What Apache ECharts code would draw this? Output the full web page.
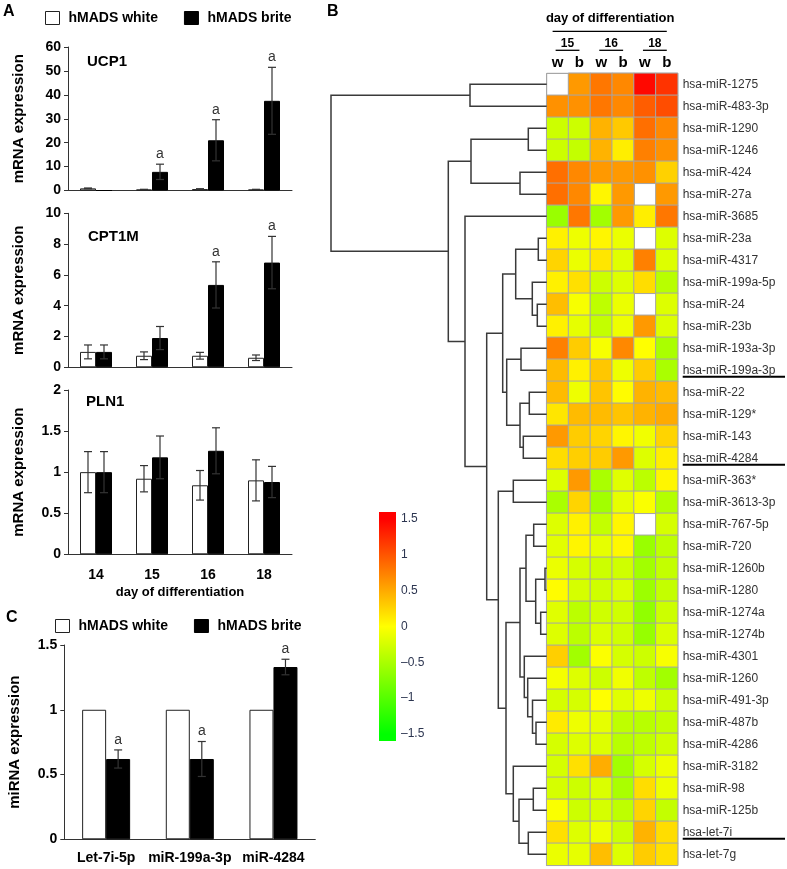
<!DOCTYPE html>
<html>
<head>
<meta charset="utf-8">
<script src="https://cdn.jsdelivr.net/npm/echarts@6.0.0/dist/echarts.min.js"></script>
<style>
html,body{margin:0;padding:0;background:#fff;}
#chart{width:787px;height:869px;}
</style>
</head>
<body>
<div id="chart"></div>
<script>
// ================= DATA =================
// Panel A
const days = ['14', '15', '16', '18'];
const ucp1White = [0.9, 0.4, 0.6, 0.4];
const ucp1WhiteErr = [0.15, 0.1, 0.15, 0.1];
const ucp1Brite = [0, 7.8, 21, 37.5];
const ucp1BriteErr = [0, 3.2, 8.6, 14];
const ucp1Sig = [0, 1, 1, 1];

const cpt1mWhite = [1.0, 0.75, 0.75, 0.62];
const cpt1mWhiteErr = [0.45, 0.25, 0.22, 0.18];
const cpt1mBrite = [1.0, 1.9, 5.35, 6.8];
const cpt1mBriteErr = [0.45, 0.75, 1.5, 1.7];
const cpt1mSig = [0, 0, 1, 1];

const pln1White = [1.0, 0.92, 0.84, 0.9];
const pln1WhiteErr = [0.25, 0.16, 0.18, 0.25];
const pln1Brite = [1.0, 1.18, 1.26, 0.88];
const pln1BriteErr = [0.25, 0.26, 0.28, 0.19];
const pln1Sig = [0, 0, 0, 0];

const ucp1Ticks = {max: 60, interval: 10};
const cpt1mTicks = {max: 10, interval: 2};
const pln1Ticks = {max: 2, interval: 0.5};

// Panel C
const mirs = ['Let-7i-5p', 'miR-199a-3p', 'miR-4284'];
const mirWhite = [1, 1, 1];
const mirWhiteErr = [0, 0, 0];
const mirBrite = [0.62, 0.62, 1.33];
const mirBriteErr = [0.07, 0.135, 0.06];
const mirSig = [1, 1, 1];
const mirTicks = {max: 1.5, interval: 0.5};

// Panel B heatmap
const hmCols = ['w15', 'b15', 'w16', 'b16', 'w18', 'b18'];
const hmDays = ['15', '16', '18'];
const mirnaRows = [
  'hsa-miR-1275', 'hsa-miR-483-3p', 'hsa-miR-1290', 'hsa-miR-1246', 'hsa-miR-424', 'hsa-miR-27a',
  'hsa-miR-3685', 'hsa-miR-23a', 'hsa-miR-4317', 'hsa-miR-199a-5p', 'hsa-miR-24', 'hsa-miR-23b',
  'hsa-miR-193a-3p', 'hsa-miR-199a-3p', 'hsa-miR-22', 'hsa-miR-129*', 'hsa-miR-143', 'hsa-miR-4284',
  'hsa-miR-363*', 'hsa-miR-3613-3p', 'hsa-miR-767-5p', 'hsa-miR-720', 'hsa-miR-1260b', 'hsa-miR-1280',
  'hsa-miR-1274a', 'hsa-miR-1274b', 'hsa-miR-4301', 'hsa-miR-1260', 'hsa-miR-491-3p', 'hsa-miR-487b',
  'hsa-miR-4286', 'hsa-miR-3182', 'hsa-miR-98', 'hsa-miR-125b', 'hsa-let-7i', 'hsa-let-7g'
];
const hmValues = [
  [null, 0.6, 0.8, 0.7, 1.45, 1.2],
  [0.65, 0.65, 0.8, 0.7, 0.95, 1.05],
  [-0.3, -0.3, 0.45, 0.32, 0.85, 0.7],
  [-0.3, -0.35, 0.45, 0.1, 0.75, 0.65],
  [0.85, 0.7, 0.6, 0.6, 0.65, 0.27],
  [0.85, 0.7, 0.05, 0.6, null, 0.6],
  [-0.6, 0.8, -0.55, 0.6, 0.1, 0.8],
  [0.08, -0.1, 0.05, -0.12, null, -0.2],
  [0.25, -0.12, 0.15, -0.18, 0.75, -0.2],
  [0.08, 0.18, -0.3, -0.2, 0.2, -0.42],
  [0.38, -0.05, -0.38, -0.12, null, -0.2],
  [0.08, -0.15, -0.35, -0.1, 0.6, -0.2],
  [0.75, 0.3, -0.05, 0.7, 0.0, -0.5],
  [0.4, 0.08, 0.33, -0.1, 0.3, -0.5],
  [0.4, -0.1, 0.35, 0.02, 0.45, 0.4],
  [0.15, 0.4, 0.4, 0.35, 0.45, 0.5],
  [0.6, 0.3, 0.25, 0.05, -0.08, 0.25],
  [0.2, 0.28, 0.3, 0.6, -0.2, 0.1],
  [-0.2, 0.6, -0.5, -0.18, -0.4, 0.05],
  [-0.5, 0.25, -0.55, -0.15, -0.03, -0.45],
  [-0.2, 0.08, -0.35, 0.05, null, -0.25],
  [-0.17, 0.06, -0.15, 0.04, -0.6, -0.38],
  [-0.12, -0.25, -0.3, -0.28, -0.55, -0.35],
  [0.02, -0.25, -0.28, -0.22, -0.58, -0.35],
  [-0.18, -0.4, -0.28, -0.28, -0.65, -0.3],
  [-0.2, -0.4, -0.22, -0.28, -0.62, -0.22],
  [0.28, -0.55, -0.02, -0.25, -0.3, -0.04],
  [-0.06, -0.2, -0.3, -0.08, -0.38, -0.55],
  [-0.25, -0.25, 0.0, -0.18, -0.1, -0.3],
  [0.12, -0.1, -0.15, -0.38, -0.42, -0.35],
  [-0.25, -0.2, -0.2, -0.42, -0.38, -0.28],
  [-0.25, 0.18, 0.48, -0.55, -0.25, -0.1],
  [-0.25, -0.3, -0.22, -0.5, 0.2, -0.1],
  [-0.03, -0.3, -0.25, -0.38, 0.25, -0.35],
  [0.18, -0.2, -0.1, -0.3, 0.45, 0.2],
  [-0.12, -0.15, 0.38, -0.2, 0.3, 0.18]
];
const underlinedRows = ['hsa-miR-199a-3p', 'hsa-miR-4284', 'hsa-let-7i'];
// hierarchical clustering linkage: [childA, childB, height]; ids < 36 are rows, 36+k is merge k
const linkage = [
  [22, 23, 0.17], [24, 25, 0.60], [7, 8, 0.84], [10, 11, 0.94], [29, 30, 1.07],
  [36, 37, 1.10], [20, 21, 1.30], [32, 33, 1.34], [28, 40, 1.42], [9, 39, 1.44],
  [14, 15, 1.74], [2, 3, 1.84], [34, 35, 1.84], [27, 44, 1.90], [42, 41, 2.07],
  [26, 49, 2.24], [16, 17, 2.34], [12, 13, 2.57], [4, 5, 2.67], [46, 52, 2.67],
  [50, 51, 2.67], [43, 48, 2.77], [38, 45, 3.10], [18, 19, 3.34], [31, 57, 3.34],
  [53, 55, 4.00], [56, 60, 4.07], [58, 61, 4.40], [59, 62, 4.84], [63, 64, 6.00],
  [47, 54, 7.57], [0, 1, 7.67], [6, 65, 8.17], [66, 68, 9.84], [67, 69, 21.57]
];
const colorScaleMin = -1.5, colorScaleMax = 1.5;
const colorbarTicks = 0.5;

// ================= STYLE =================
const FONT = 'Arial, "Liberation Sans", Helvetica, sans-serif';
const heatColors = ['#00ff00', '#ffff00', '#ff0000'];
const AXIS = '#333';

// ================= BUILD =================
const chart = echarts.init(document.getElementById('chart'), null, {renderer: 'canvas'});

function errSeries(gi, vals, errs, sig, off) {
  return {
    type: 'custom', xAxisIndex: gi, yAxisIndex: gi, z: 5, silent: true,
    data: vals.map((v, i) => [i, v, errs[i], sig ? sig[i] : 0]),
    encode: {x: 0, y: 1},
    renderItem(params, api) {
      const i = api.value(0), v = api.value(1), e = api.value(2), s = api.value(3);
      const top = api.coord([i, v + e]);
      const bot = api.coord([i, Math.max(v - e, 0)]);
      const x = top[0] + off;
      const st = {stroke: AXIS, lineWidth: 1.2};
      const ch = [];
      if (e > 0) {
        ch.push({type: 'line', shape: {x1: x, y1: top[1], x2: x, y2: bot[1]}, style: st});
        ch.push({type: 'line', shape: {x1: x - 4, y1: top[1], x2: x + 4, y2: top[1]}, style: st});
        ch.push({type: 'line', shape: {x1: x - 4, y1: bot[1], x2: x + 4, y2: bot[1]}, style: st});
      }
      if (s) {
        ch.push({type: 'text', style: {text: 'a', x: x, y: top[1] - 3, align: 'center', verticalAlign: 'bottom',
          fill: '#333', font: '14px ' + FONT}});
      }
      return {type: 'group', children: ch};
    }
  };
}

function barSet(gi, white, whiteErr, brite, briteErr, sig, bw) {
  return [
    {type: 'bar', name: 'hMADS white', xAxisIndex: gi, yAxisIndex: gi, data: white, barWidth: bw, barGap: '0%',
      itemStyle: {color: '#fff', borderColor: '#222', borderWidth: 1}, silent: true},
    {type: 'bar', name: 'hMADS brite', xAxisIndex: gi, yAxisIndex: gi, data: brite, barWidth: bw, barGap: '0%',
      itemStyle: {color: '#000', borderColor: '#000', borderWidth: 1}, silent: true},
    errSeries(gi, white, whiteErr, null, -bw / 2),
    errSeries(gi, brite, briteErr, sig, bw / 2)
  ];
}

function catX(gi, data, showLabels, extra) {
  return Object.assign({
    type: 'category', gridIndex: gi, data: data,
    axisTick: {show: false},
    axisLine: {show: true, lineStyle: {color: AXIS, width: 1}},
    axisLabel: {show: showLabels, interval: 0, color: '#000', fontWeight: 'bold', fontSize: 14, fontFamily: FONT, margin: 14}
  }, extra || {});
}
function valY(gi, ticks, name, gap) {
  return {
    type: 'value', gridIndex: gi, min: 0, max: ticks.max, interval: ticks.interval,
    name: name, nameLocation: 'middle', nameGap: gap, nameRotate: 90,
    nameTextStyle: {fontWeight: 'bold', fontSize: 15, color: '#000', fontFamily: FONT},
    axisLine: {show: true, lineStyle: {color: AXIS, width: 1}},
    axisTick: {show: true, length: 4, lineStyle: {color: AXIS}},
    splitLine: {show: false},
    axisLabel: {color: '#000', fontWeight: 'bold', fontSize: 14, fontFamily: FONT, margin: 7}
  };
}

const grids = [
  {left: 68, top: 47, width: 224, height: 143.5},
  {left: 68, top: 213.3, width: 224, height: 154},
  {left: 68, top: 390, width: 224, height: 164.3},
  {left: 64.3, top: 645, width: 251, height: 194.3},
  {left: 546.7, top: 73.3, width: 131, height: 792, show: true, borderColor: '#a6a6a6', borderWidth: 1},
  {left: 331, top: 73.3, width: 215.7, height: 792},
  {left: 379, top: 519, width: 17, height: 215}
];

// dendrogram geometry from linkage
const nodeY = mirnaRows.map((_, i) => i);
const nodeH = mirnaRows.map(() => 0);
const dendroData = linkage.map(([p, q, h]) => {
  const row = [nodeH[p], nodeY[p], h, nodeY[q], nodeH[q]];
  nodeY.push((nodeY[p] + nodeY[q]) / 2);
  nodeH.push(h);
  return row;
});
const rootH = Math.max(...linkage.map(l => l[2]));

const heatData = [];
hmValues.forEach((row, r) => row.forEach((v, c) => { if (v !== null) heatData.push([c, r, v]); }));

const series = [
  ...barSet(0, ucp1White, ucp1WhiteErr, ucp1Brite, ucp1BriteErr, ucp1Sig, 16),
  ...barSet(1, cpt1mWhite, cpt1mWhiteErr, cpt1mBrite, cpt1mBriteErr, cpt1mSig, 16),
  ...barSet(2, pln1White, pln1WhiteErr, pln1Brite, pln1BriteErr, pln1Sig, 16),
  ...barSet(3, mirWhite, mirWhiteErr, mirBrite, mirBriteErr, mirSig, 24)
];
const heatIdx = series.length;
series.push({
  type: 'heatmap', xAxisIndex: 4, yAxisIndex: 4, data: heatData, silent: true,
  itemStyle: {borderColor: '#a6a6a6', borderWidth: 1}
});
series.push({
  type: 'custom', xAxisIndex: 5, yAxisIndex: 5, silent: true, data: dendroData,
  encode: {x: [0, 2, 4], y: [1, 3]},
  renderItem(params, api) {
    const a = api.coord([api.value(0), api.value(1)]);
    const b = api.coord([api.value(2), api.value(1)]);
    const c = api.coord([api.value(2), api.value(3)]);
    const d = api.coord([api.value(4), api.value(3)]);
    return {type: 'polyline', shape: {points: [a, b, c, d]}, style: {stroke: '#3a3a3a', lineWidth: 1.5, fill: null}};
  }
});
series.push({
  type: 'custom', xAxisIndex: 6, yAxisIndex: 6, silent: true, data: [[colorScaleMin, colorScaleMax]],
  encode: {y: [0, 1]},
  renderItem(params, api) {
    const tl = api.coord([0, api.value(1)]);
    const br = api.coord([1, api.value(0)]);
    const ext = 7;
    return {type: 'rect', shape: {x: tl[0], y: tl[1] - ext, width: br[0] - tl[0], height: br[1] - tl[1] + 2 * ext},
      style: {fill: new echarts.graphic.LinearGradient(0, 0, 0, 1, [
        {offset: 0, color: heatColors[2]}, {offset: 0.03, color: heatColors[2]},
        {offset: 0.5, color: heatColors[1]}, {offset: 0.97, color: heatColors[0]}, {offset: 1, color: heatColors[0]}
      ])}};
  }
});

const legendData = [
  {name: 'hMADS white', itemStyle: {color: '#fff', borderColor: '#222', borderWidth: 1}},
  {name: 'hMADS brite', itemStyle: {color: '#000', borderColor: '#000', borderWidth: 1}}
];
const legendCommon = {
  data: legendData, icon: 'rect', itemWidth: 14, itemHeight: 13, itemGap: 26, selectedMode: false, padding: 0,
  textStyle: {fontWeight: 'bold', fontSize: 14, color: '#000', fontFamily: FONT, padding: [0, 0, 0, 4]}
};
const titleStyle = (size) => ({fontWeight: 'bold', fontSize: size, color: '#000', fontFamily: FONT});
const mkTitle = (text, left, top, size) => ({text, left, top, padding: 0, textStyle: titleStyle(size)});

const option = {
  animation: false,
  backgroundColor: '#fff',
  title: [
    mkTitle('A', 3, 4, 16),
    mkTitle('B', 327, 4, 16),
    mkTitle('C', 6, 610, 16),
    mkTitle('UCP1', 87, 54, 15),
    mkTitle('CPT1M', 88, 229, 15),
    mkTitle('PLN1', 86, 394, 15)
  ],
  legend: [
    Object.assign({left: 45, top: 11}, legendCommon),
    Object.assign({left: 55, top: 619}, legendCommon)
  ],
  grid: grids,
  xAxis: [
    catX(0, days, false),
    catX(1, days, false),
    catX(2, days, true, {name: 'day of differentiation', nameLocation: 'middle', nameGap: 32,
      nameTextStyle: {fontWeight: 'bold', fontSize: 13, color: '#000', fontFamily: FONT}}),
    catX(3, mirs, true, {axisLabel: {interval: 0, color: '#000', fontWeight: 'bold', fontSize: 14, fontFamily: FONT, margin: 12}}),
    {type: 'category', gridIndex: 4, data: hmCols, position: 'top',
      axisLine: {show: false}, axisTick: {show: false},
      axisLabel: {interval: 0, formatter: v => v.charAt(0), color: '#000', fontWeight: 'bold', fontSize: 15, fontFamily: FONT, margin: 3},
      splitLine: {show: true, interval: 0, lineStyle: {color: '#a6a6a6', width: 1}}},
    {type: 'value', gridIndex: 5, min: 0, max: rootH, inverse: true, show: false},
    {type: 'value', gridIndex: 6, min: 0, max: 1, show: false}
  ],
  yAxis: [
    valY(0, ucp1Ticks, 'mRNA expression', 42),
    valY(1, cpt1mTicks, 'mRNA expression', 42),
    valY(2, pln1Ticks, 'mRNA expression', 42),
    valY(3, mirTicks, 'miRNA expression', 42),
    {type: 'category', gridIndex: 4, data: mirnaRows, inverse: true, position: 'right',
      axisLine: {show: false}, axisTick: {show: false},
      axisLabel: {interval: 0, color: '#333', fontSize: 12, fontFamily: FONT, margin: 5},
      splitLine: {show: true, interval: 0, lineStyle: {color: '#a6a6a6', width: 1}}},
    {type: 'value', gridIndex: 5, min: -0.5, max: mirnaRows.length - 0.5, inverse: true, show: false},
    {type: 'value', gridIndex: 6, min: colorScaleMin, max: colorScaleMax, interval: colorbarTicks, position: 'right',
      axisLine: {show: false}, axisTick: {show: false}, splitLine: {show: false},
      axisLabel: {color: '#2c3550', fontSize: 12, fontFamily: FONT, margin: 5,
        formatter: v => (v < 0 ? '\u2013' + Math.abs(v) : String(v))}}
  ],
  visualMap: [{
    type: 'continuous', show: false, seriesIndex: heatIdx, dimension: 2,
    min: colorScaleMin, max: colorScaleMax, inRange: {color: heatColors}
  }],
  series: series
};

chart.setOption(option);

// header annotations & underlines positioned from the heatmap axes
const cell = (c, r) => chart.convertToPixel({gridIndex: 4}, [c, r]);
const gTop = grids[4].top, gRight = grids[4].left + grids[4].width;
const graphics = [];
const c0 = cell(0, 0), cN = cell(hmCols.length - 1, 0);
graphics.push({type: 'text', x: (c0[0] + cN[0]) / 2 - 2, y: gTop - 55,
  style: {text: 'day of differentiation', align: 'center', verticalAlign: 'middle', font: 'bold 13px ' + FONT, fill: '#000'}});
graphics.push({type: 'line', shape: {x1: c0[0] - 5, y1: gTop - 42, x2: cN[0], y2: gTop - 42}, style: {stroke: '#000', lineWidth: 1.3}});
hmDays.forEach((d, g) => {
  const a = cell(2 * g, 0), b = cell(2 * g + 1, 0);
  graphics.push({type: 'text', x: (a[0] + b[0]) / 2 - 1, y: gTop - 30,
    style: {text: d, align: 'center', verticalAlign: 'middle', font: 'bold 12px ' + FONT, fill: '#000'}});
  graphics.push({type: 'line', shape: {x1: a[0] - 2, y1: gTop - 23, x2: b[0], y2: gTop - 23}, style: {stroke: '#000', lineWidth: 1.3}});
});
underlinedRows.forEach(name => {
  const r = mirnaRows.indexOf(name);
  const p = cell(0, r);
  graphics.push({type: 'line', shape: {x1: gRight + 5, y1: p[1] + 6.5, x2: 785, y2: p[1] + 6.5}, style: {stroke: '#000', lineWidth: 2}});
});
chart.setOption({graphic: graphics});
</script>
</body>
</html>
